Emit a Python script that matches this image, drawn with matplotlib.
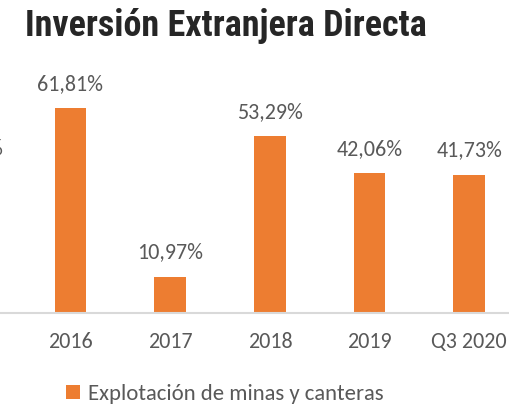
import matplotlib
matplotlib.use("Agg")
import matplotlib.pyplot as plt
from matplotlib.patches import Patch

categories = ["2015", "2016", "2017", "2018", "2019", "Q3 2020"]
values = [42.35, 61.81, 10.97, 53.29, 42.06, 41.73]
labels = ["42,35%", "61,81%", "10,97%", "53,29%", "42,06%", "41,73%"]
series_name = "Explotación de minas y canteras"
title = "Inversión Extranjera Directa"

W, H = 510, 412
fig = plt.figure(figsize=(W / 100, H / 100), dpi=100)

orange = "#ED7D31"
gray_text = "#595959"
body_font = ["Carlito", "DejaVu Sans"]
fs = 15.8

# axes: categories ~99.7 px apart, first category centred off-canvas
left_px = -79
width_px = 598
base_px = 313
ymax = 70
px_per = 3.317
height_px = ymax * px_per
ax = fig.add_axes([left_px / W, (H - base_px) / H, width_px / W, height_px / H])

xs = list(range(len(categories)))
ax.bar(xs, values, width=0.32, color=orange, zorder=2)
ax.set_xlim(-0.5, len(categories) - 0.5)
ax.set_ylim(0, ymax)

for x, v, lab in zip(xs, values, labels):
    ax.annotate(lab, (x, v), xytext=(0, 17.5), textcoords="offset points",
                ha="center", va="center", fontsize=fs, color=gray_text,
                family=body_font, annotation_clip=False)

for s in ["top", "right", "left"]:
    ax.spines[s].set_visible(False)
ax.spines["bottom"].set_color("#d9d9d9")
ax.spines["bottom"].set_linewidth(1.5)
ax.set_yticks([])
ax.set_xticks(xs)
ax.set_xticklabels(categories, fontsize=fs, color=gray_text, family=body_font)
ax.tick_params(axis="x", length=0, pad=14)

fig.text(25 / W, 1 - 36.5 / H, title, fontsize=26, fontweight="bold",
         color="#262626", family=["Roboto Condensed", "DejaVu Sans"],
         ha="left", va="baseline")

handle = Patch(facecolor=orange, edgecolor="none")
fig.legend([handle], [series_name], loc="center",
           bbox_to_anchor=(225 / W, 18 / H), frameon=False,
           prop={"family": body_font, "size": 16.4},
           labelcolor=gray_text, handlelength=0.6, handleheight=0.6,
           handletextpad=0.35)

fig.savefig("out.png", dpi=100)
